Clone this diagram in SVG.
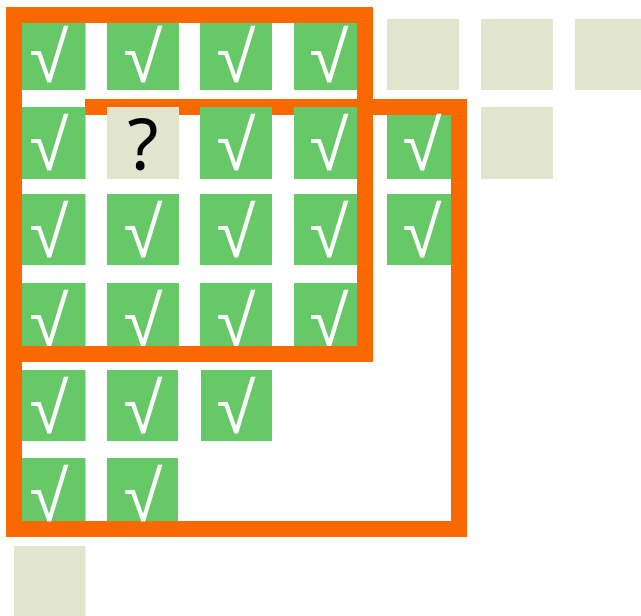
<svg xmlns="http://www.w3.org/2000/svg" width="641" height="616" viewBox="0 0 641 616">
<style>
.g{fill:#66c866}
.e{fill:#e1e5cd}
.o{fill:none;stroke:#fa6900;stroke-width:16;stroke-linejoin:miter}
.t{font-family:"Noto Sans",sans-serif;font-size:71px;text-anchor:middle;fill:#fff}
.q{font-family:"Noto Sans",sans-serif;font-size:71px;text-anchor:middle;fill:#000}
</style>
<rect width="641" height="616" fill="#fff"/>
<g id="empty">
<rect class="e" x="387" y="19" width="72" height="71"/>
<rect class="e" x="481" y="19" width="72" height="71"/>
<rect class="e" x="575" y="19" width="72" height="71"/>
<rect class="e" x="481" y="107" width="72" height="72"/>
<rect class="e" x="14" y="546" width="71.5" height="71"/>
</g>
<g id="connectors">
<path id="region2" class="o" d="M85 107 H459 V529 H14 V107"/>
</g>
<g id="cells">
<g id="r0c0"><rect class="g" x="14" y="19" width="71.5" height="71"/><text class="t" x="49" y="82">√</text></g>
<g id="r0c1"><rect class="g" x="107" y="19" width="72" height="71"/><text class="t" x="143" y="82">√</text></g>
<g id="r0c2"><rect class="g" x="200" y="19" width="72" height="71"/><text class="t" x="236" y="82">√</text></g>
<g id="r0c3"><rect class="g" x="294" y="19" width="72" height="71"/><text class="t" x="329" y="82">√</text></g>
<g id="r1c0"><rect class="g" x="22" y="107" width="63.5" height="72"/><text class="t" x="49" y="170">√</text></g>
<g id="r1c1"><rect class="e" x="107" y="107" width="72" height="72"/><text class="q" x="143" y="170">?</text></g>
<g id="r1c2"><rect class="g" x="200" y="107" width="72" height="72"/><text class="t" x="236" y="170">√</text></g>
<g id="r1c3"><rect class="g" x="294" y="107" width="72" height="72"/><text class="t" x="329" y="170">√</text></g>
<g id="r1c4"><rect class="g" x="387" y="115" width="64" height="64"/><text class="t" x="422" y="170">√</text></g>
<g id="r2c0"><rect class="g" x="22" y="194" width="63.5" height="71"/><text class="t" x="49" y="257">√</text></g>
<g id="r2c1"><rect class="g" x="107" y="194" width="72" height="71"/><text class="t" x="143" y="257">√</text></g>
<g id="r2c2"><rect class="g" x="200" y="194" width="72" height="71"/><text class="t" x="236" y="257">√</text></g>
<g id="r2c3"><rect class="g" x="294" y="194" width="72" height="71"/><text class="t" x="329" y="257">√</text></g>
<g id="r2c4"><rect class="g" x="387" y="194" width="64" height="71"/><text class="t" x="422" y="257">√</text></g>
<g id="r3c0"><rect class="g" x="22" y="283" width="63.5" height="71"/><text class="t" x="49" y="346">√</text></g>
<g id="r3c1"><rect class="g" x="107" y="283" width="72" height="71"/><text class="t" x="143" y="346">√</text></g>
<g id="r3c2"><rect class="g" x="200" y="283" width="72" height="71"/><text class="t" x="236" y="346">√</text></g>
<g id="r3c3"><rect class="g" x="294" y="283" width="72" height="71"/><text class="t" x="329" y="346">√</text></g>
<g id="r4c0"><rect class="g" x="22" y="370" width="63.5" height="71"/><text class="t" x="49" y="433">√</text></g>
<g id="r4c1"><rect class="g" x="107" y="370" width="71" height="71"/><text class="t" x="143" y="433">√</text></g>
<g id="r4c2"><rect class="g" x="201" y="370" width="71" height="71"/><text class="t" x="236" y="433">√</text></g>
<g id="r5c0"><rect class="g" x="22" y="458" width="63.5" height="63"/><text class="t" x="49" y="521">√</text></g>
<g id="r5c1"><rect class="g" x="107" y="458" width="71" height="63"/><text class="t" x="143" y="521">√</text></g>
</g>
<g id="region1">
<rect class="o" x="14" y="15" width="351" height="339"/>
</g>
</svg>
